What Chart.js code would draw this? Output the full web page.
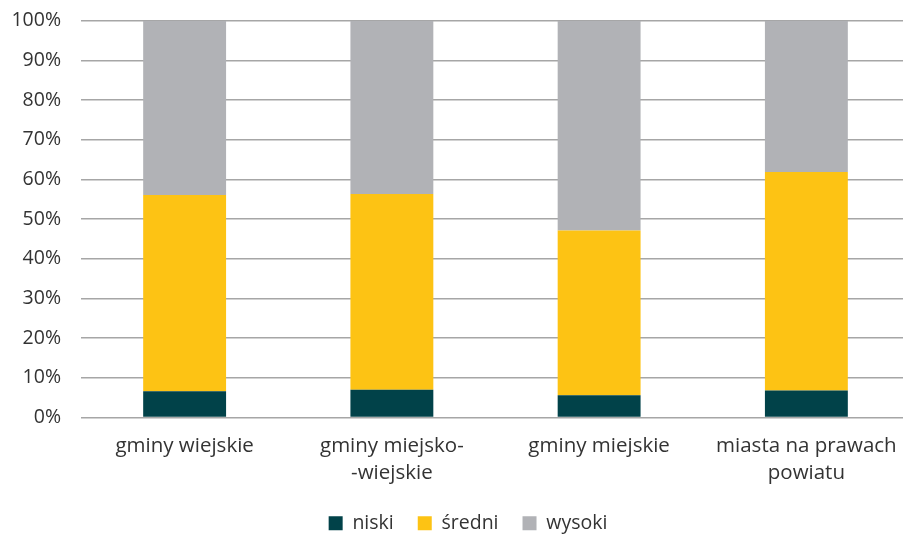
<!DOCTYPE html>
<html lang="pl">
<head>
<meta charset="utf-8">
<script src="https://cdn.jsdelivr.net/npm/chart.js@4/dist/chart.umd.min.js"></script>
<style>
  html, body { margin: 0; padding: 0; background: #fff; overflow: hidden; height: 534px; }
  #wrap { position: relative; top: -11px; width: 910px; height: 554px; }
</style>
</head>
<body>
<div id="wrap"><canvas id="chart"></canvas></div>
<script>
// kategorie gmin i udziały poziomów (w %)
var categories = [
    ["gminy wiejskie"],
    ["gminy miejsko-", "-wiejskie"],
    ["gminy miejskie"],
    ["miasta na prawach", "powiatu"]
];
var niski = [6.6, 7.0, 5.6, 6.8];
var sredni = [49.5, 49.3, 41.5, 55.1];
var wysoki = [43.9, 43.7, 52.9, 38.1];

var font = "'Open Sans', 'Noto Sans', sans-serif";
var textColor = "#333333";

var data = {
    labels: categories,
    datasets: [
        { label: "niski", data: niski, backgroundColor: "#014249" },
        { label: "średni", data: sredni, backgroundColor: "#FDC314" },
        { label: "wysoki", data: wysoki, backgroundColor: "#B1B2B6" }
    ]
};

var options = {
    responsive: true,
    maintainAspectRatio: false,
    animation: false,
    layout: { padding: { top: 0, left: 4, right: 0, bottom: 0 } },
    datasets: { bar: { categoryPercentage: 1, barPercentage: 0.4 } },
    scales: {
        x: {
            stacked: true,
            grid: { display: false },
            border: { display: false },
            afterFit: function (scale) { scale.height = 72; },
            ticks: {
                color: textColor,
                font: { family: font, size: 20.5, lineHeight: 1.33 },
                maxRotation: 0,
                padding: 7
            }
        },
        y: {
            stacked: true,
            min: 0,
            max: 100,
            grid: { color: "#a6a6a6", lineWidth: 1.5, drawTicks: false },
            border: { display: false },
            afterFit: function (scale) { scale.width = 77; },
            ticks: {
                stepSize: 10,
                color: textColor,
                font: { family: font, size: 19.5 },
                padding: 20,
                callback: function (v) { return v + "%"; }
            }
        }
    },
    plugins: {
        tooltip: { enabled: false },
        legend: {
            position: "bottom",
            labels: {
                color: textColor,
                font: { family: font, size: 19.5 },
                boxWidth: 14,
                boxHeight: 14,
                padding: 24
            }
        }
    }
};

// legenda wyśrodkowana trochę na prawo, pod obszarem wykresu
var legendShift = {
    id: "legendShift",
    afterLayout: function (chart) {
        if (chart.legend) { chart.legend.left += 22; }
    }
};

var chart = new Chart(document.getElementById("chart"), {
    type: "bar",
    data: data,
    options: options,
    plugins: [legendShift]
});
</script>
</body>
</html>
